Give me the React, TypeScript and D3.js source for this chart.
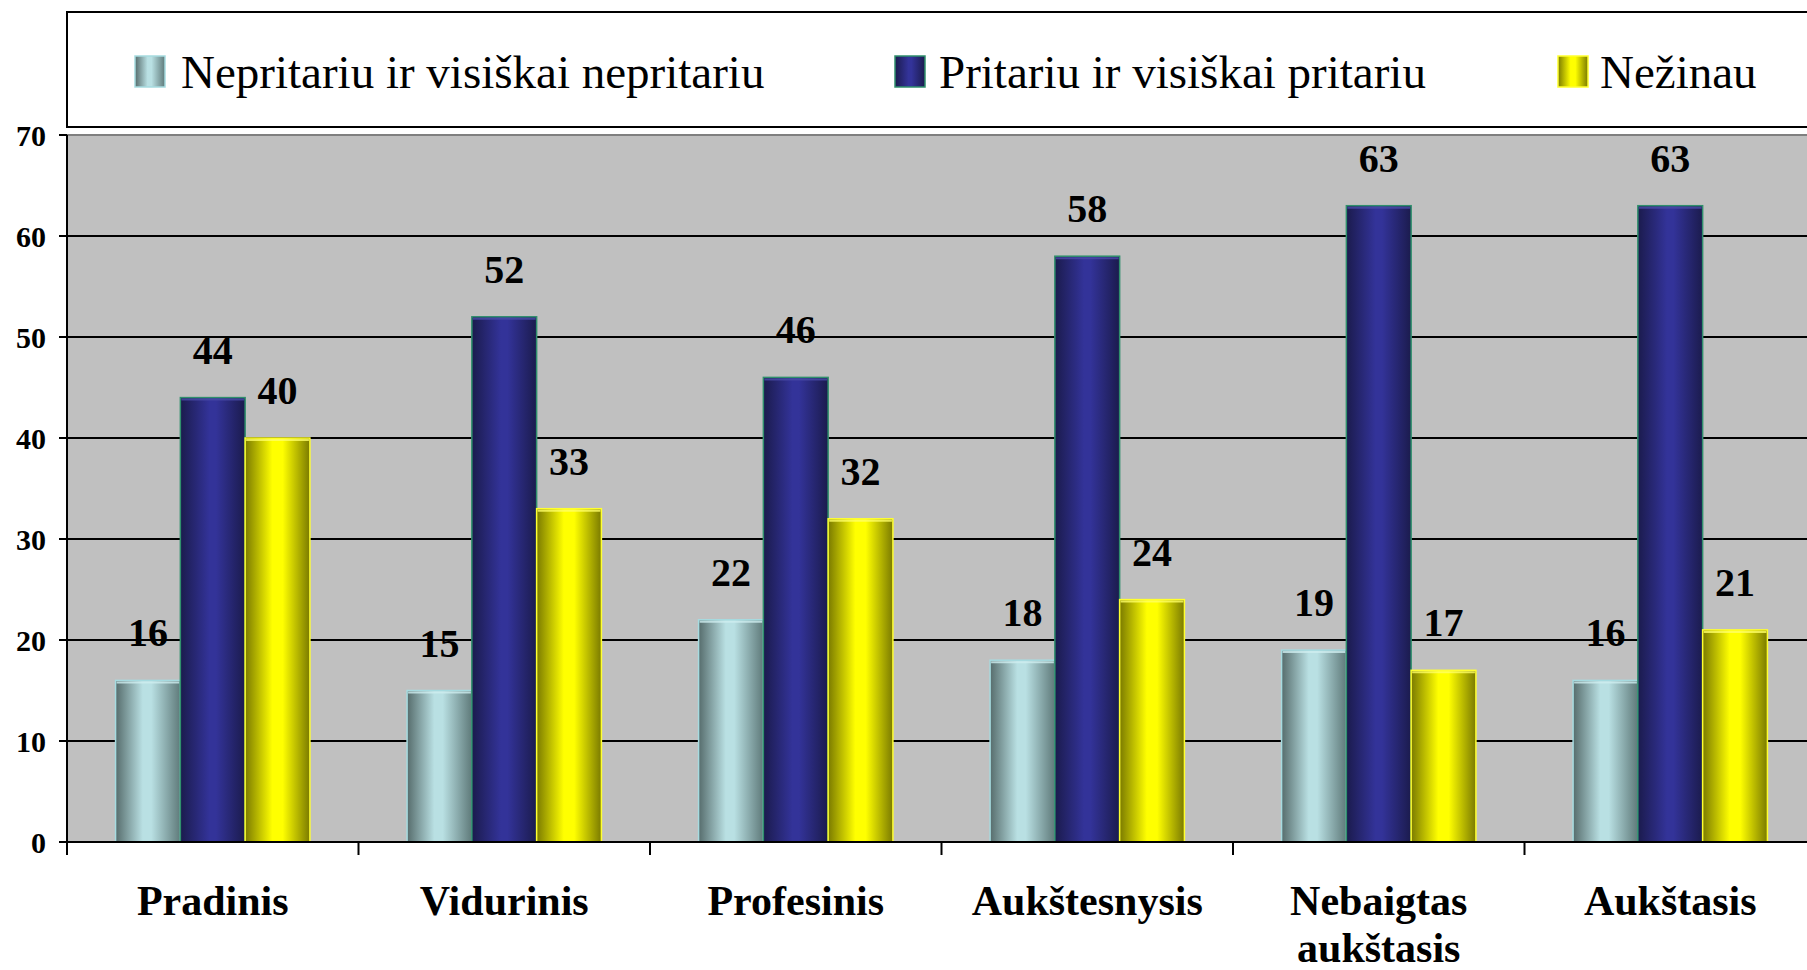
import React from "react";
import * as d3 from "d3";

const categories: string[][] = [
  ["Pradinis"],
  ["Vidurinis"],
  ["Profesinis"],
  ["Aukštesnysis"],
  ["Nebaigtas", "aukštasis"],
  ["Aukštasis"],
];
const seriesNames = [
  "Nepritariu ir visiškai nepritariu",
  "Pritariu ir visiškai pritariu",
  "Nežinau",
];
const nepritariu = [16, 15, 22, 18, 19, 16];
const pritariu = [44, 52, 46, 58, 63, 63];
const nezinau = [40, 33, 32, 24, 17, 21];
const yTicks = [0, 10, 20, 30, 40, 50, 60, 70];

const seriesValues = [nepritariu, pritariu, nezinau];
const gradStops = [
  [["0%", "#566c6c"], ["42%", "#b9e0e3"], ["55%", "#b9e0e3"], ["100%", "#5f7a7a"]],
  [["0%", "#1b1b4d"], ["45%", "#333399"], ["55%", "#333399"], ["100%", "#1b1b4d"]],
  [["0%", "#7a7a00"], ["42%", "#ffff00"], ["58%", "#ffff00"], ["100%", "#7a7a00"]],
];
const strokes = ["#a6dbe0", "#2f8f6c", "#ffff30"];
const topHighlights = ["#cfeef0", "#4a4aa8", "#ffff66"];

const W = 1807;
const H = 970;
const left = 67;
const top = 135;
const bottom = 842;
const band = 291.5;

export default function App() {
  const x = d3
    .scaleBand<number>()
    .domain(categories.map((_, i) => i))
    .range([left, left + band * categories.length])
    .paddingInner(0)
    .paddingOuter(0);
  const bw = x.bandwidth();
  const barW = bw / 4.5;
  const y = d3.scaleLinear().domain([0, 70]).range([bottom, top]);
  const serif = "'Liberation Serif', 'Times New Roman', serif";

  const legendItems = [
    { sx: 135, tx: 181 },
    { sx: 895, tx: 939 },
    { sx: 1558, tx: 1600 },
  ];

  return (
    <svg
      width={W}
      height={H}
      style={{ position: "absolute", left: 0, top: 0, display: "block", background: "#fff" }}
    >
      <defs>
        {gradStops.map((stops, si) => (
          <linearGradient key={si} id={`g${si}`} x1="0" y1="0" x2="1" y2="0">
            {stops.map(([o, c], k) => (
              <stop key={k} offset={o} stopColor={c} />
            ))}
          </linearGradient>
        ))}
      </defs>

      {/* plot area */}
      <rect x={left} y={top} width={W - left + 20} height={bottom - top} fill="#c0c0c0" />
      <line x1={left} x2={W} y1={top} y2={top} stroke="#7f7f7f" strokeWidth={2} />

      {/* gridlines */}
      {yTicks
        .filter((t) => t > 0 && t < 70)
        .map((t) => (
          <line key={t} x1={left} x2={W} y1={y(t)} y2={y(t)} stroke="#000" strokeWidth={2} />
        ))}

      {/* bars */}
      {categories.map((_, ci) =>
        seriesValues.map((vals, si) => {
          const bx = (x(ci) as number) + 0.75 * barW + si * barW;
          const by = y(vals[ci]);
          return (
            <g key={`${ci}-${si}`}>
              <rect
                x={bx}
                y={by}
                width={barW}
                height={bottom - by}
                fill={`url(#g${si})`}
                stroke={strokes[si]}
                strokeWidth={1.5}
              />
              <line
                x1={bx + 1}
                x2={bx + barW - 1}
                y1={by + 2}
                y2={by + 2}
                stroke={topHighlights[si]}
                strokeWidth={2}
                opacity={0.8}
              />
              <text
                x={bx + barW / 2}
                y={by - 34}
                textAnchor="middle"
                fontFamily={serif}
                fontWeight="bold"
                fontSize={40}
                fill="#000"
              >
                {vals[ci]}
              </text>
            </g>
          );
        })
      )}

      {/* y axis */}
      <line x1={left} x2={left} y1={top} y2={bottom + 13} stroke="#000" strokeWidth={2} />
      {yTicks.map((t) => (
        <g key={t}>
          <line x1={left - 8} x2={left} y1={y(t)} y2={y(t)} stroke="#000" strokeWidth={2} />
          <text
            x={46}
            y={y(t)}
            dy="0.35em"
            textAnchor="end"
            fontFamily={serif}
            fontWeight="bold"
            fontSize={30}
          >
            {t}
          </text>
        </g>
      ))}

      {/* x axis */}
      <line x1={left - 8} x2={W} y1={bottom} y2={bottom} stroke="#000" strokeWidth={2} />
      {categories.map((_, ci) => (
        <line
          key={ci}
          x1={(x(ci) as number) + bw}
          x2={(x(ci) as number) + bw}
          y1={bottom}
          y2={bottom + 13}
          stroke="#000"
          strokeWidth={2}
        />
      ))}
      {categories.map((lines, ci) => (
        <text
          key={ci}
          x={(x(ci) as number) + bw / 2}
          y={915}
          textAnchor="middle"
          fontFamily={serif}
          fontWeight="bold"
          fontSize={42}
        >
          {lines.map((l, k) => (
            <tspan key={k} x={(x(ci) as number) + bw / 2} dy={k === 0 ? 0 : 47}>
              {l}
            </tspan>
          ))}
        </text>
      ))}

      {/* legend */}
      <rect x={left} y={12} width={W} height={115} fill="#fff" stroke="#000" strokeWidth={2} />
      {seriesNames.map((name, si) => (
        <g key={si}>
          <rect
            x={legendItems[si].sx}
            y={56}
            width={30}
            height={31}
            fill={`url(#g${si})`}
            stroke={strokes[si]}
            strokeWidth={1.5}
          />
          <text x={legendItems[si].tx} y={88} fontFamily={serif} fontSize={47} fill="#000">
            {name}
          </text>
        </g>
      ))}
    </svg>
  );
}
